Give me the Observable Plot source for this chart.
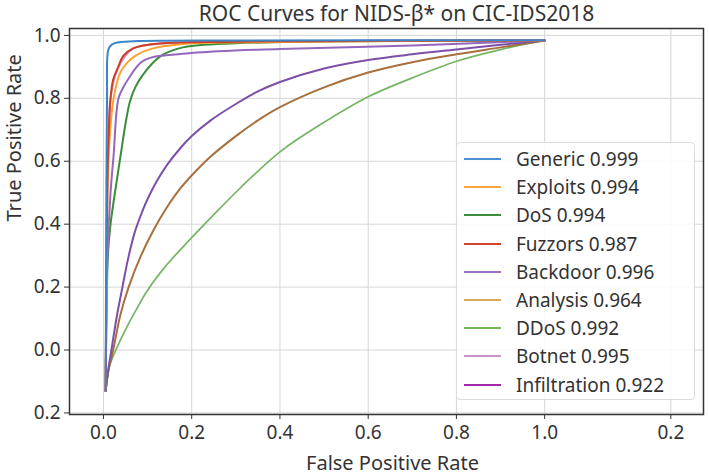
<!DOCTYPE html>
<html>
<head>
<meta charset="utf-8">
<script src="https://cdn.jsdelivr.net/npm/d3@7"></script>
<script src="https://cdn.jsdelivr.net/npm/@observablehq/plot@0.6"></script>
<style>
  body { margin: 0; background: #fff; font-family: "Noto Sans", sans-serif; }
  #chart { position: relative; width: 709px; height: 476px; }
  .legend {
    position: absolute; left: 456px; top: 142px; width: 239px; height: 258px;
    box-sizing: border-box; border: 1px solid #dcdcdc; border-radius: 4px;
    background: rgba(255,255,255,0.85);
  }
  .legend .row { position: absolute; left: 0; height: 28px; }
  .legend .swatch { position: absolute; left: 7px; width: 37px; height: 2px; }
  .legend .label { position: absolute; left: 59px; white-space: nowrap; font-size: 19px; color: #333; line-height: 28px; }
</style>
</head>
<body>
<div id="chart"></div>
<script>
// Series names, AUC scores and colours
const series = ["Generic", "Exploits", "DoS", "Fuzzors", "Backdoor", "Analysis", "DDoS", "Botnet", "Infiltration"];
const auc = [0.999, 0.994, 0.994, 0.987, 0.996, 0.964, 0.992, 0.995, 0.922];
const legendColors = ["#4a8fd6", "#ffa53f", "#3b8c3b", "#d0432c", "#9a70c0", "#dca65c", "#74b85e", "#cb92c6", "#a02aa8"];
const lineColors = ["#3d85c9", "#ffa033", "#3a8d3a", "#cc4027", "#9467bd", "#a8703d", "#74b563", "#cb92c6", "#7d4fa8"];

// ROC points per class: [false positive rate, true positive rate]
const generic = [[0.005,-0.13],[0.006,0.30],[0.008,0.80],[0.011,0.955],[0.018,0.970],[0.035,0.978],[0.08,0.982],[0.3,0.984],[1.0,0.985]];
const exploits = [[0.005,-0.13],[0.008,0.30],[0.011,0.60],[0.023,0.80],[0.039,0.885],[0.055,0.915],[0.073,0.936],[0.11,0.958],[0.18,0.973],[0.4,0.979],[1.0,0.984]];
const dos = [[0.005,-0.13],[0.010,0.30],[0.016,0.40],[0.026,0.50],[0.039,0.62],[0.050,0.72],[0.060,0.79],[0.072,0.835],[0.088,0.872],[0.11,0.91],[0.134,0.938],[0.18,0.962],[0.3,0.975],[1.0,0.984]];
const fuzzors = [[0.005,-0.13],[0.007,0.30],[0.010,0.60],[0.016,0.80],[0.022,0.86],[0.032,0.895],[0.045,0.935],[0.066,0.958],[0.125,0.974],[0.3,0.980],[1.0,0.984]];
const backdoor = [[0.005,-0.13],[0.009,0.30],[0.016,0.50],[0.023,0.62],[0.034,0.80],[0.045,0.835],[0.057,0.863],[0.091,0.920],[0.2,0.944],[0.4,0.957],[0.7,0.968],[1.0,0.984]];
const analysis = [[0.005,-0.13],[0.012,-0.06],[0.022,0.00],[0.038,0.11],[0.057,0.20],[0.085,0.30],[0.113,0.38],[0.14,0.445],[0.175,0.515],[0.21,0.57],[0.243,0.615],[0.3,0.68],[0.35,0.73],[0.4,0.772],[0.5,0.835],[0.6,0.882],[0.7,0.915],[0.8,0.94],[0.9,0.962],[1.0,0.984]];
const ddos = [[0.005,-0.13],[0.009,-0.085],[0.015,-0.045],[0.028,0.00],[0.05,0.065],[0.075,0.13],[0.10,0.19],[0.14,0.265],[0.185,0.335],[0.243,0.42],[0.31,0.515],[0.4,0.63],[0.49,0.715],[0.6,0.805],[0.7,0.865],[0.8,0.918],[0.9,0.955],[1.0,0.984]];
const botnet = [[0.005,-0.13],[0.007,0.30],[0.010,0.60],[0.016,0.80],[0.032,0.893],[0.066,0.957],[0.125,0.973],[0.3,0.980],[1.0,0.984]];
const infiltration = [[0.005,-0.13],[0.010,-0.07],[0.018,0.00],[0.030,0.105],[0.043,0.20],[0.055,0.285],[0.07,0.37],[0.085,0.43],[0.10,0.48],[0.12,0.535],[0.145,0.59],[0.175,0.643],[0.2,0.68],[0.243,0.73],[0.3,0.782],[0.35,0.822],[0.4,0.852],[0.5,0.895],[0.6,0.922],[0.7,0.94],[0.8,0.955],[0.9,0.97],[1.0,0.984]];

// Axis ticks and their printed labels
const xTicks = [0, 0.2, 0.4, 0.6, 0.8, 1.0, 1.286];
const xTickLabels = ["0.0", "0.2", "0.4", "0.6", "0.8", "1.0", "0.2"];
const yTicks = [-0.2, 0, 0.2, 0.4, 0.6, 0.8, 1.0];
const yTickLabels = ["0.2", "0.0", "0.2", "0.4", "0.6", "0.8", "1.0"];

const title = "ROC Curves for NIDS-β* on CIC-IDS2018";
const xLabel = "False Positive Rate";
const yLabel = "True Positive Rate";

const curves = {Generic: generic, Exploits: exploits, DoS: dos, Fuzzors: fuzzors, Backdoor: backdoor,
  Analysis: analysis, DDoS: ddos, Botnet: botnet, Infiltration: infiltration};
// painting order, bottom to top
const drawOrder = ["Botnet", "DDoS", "Analysis", "Infiltration", "DoS", "Backdoor", "Exploits", "Fuzzors", "Generic"];
const widthOf = name => name === "DDoS" ? 1.7 : 2;

const lineMarks = drawOrder.map(name => {
  const i = series.indexOf(name);
  return Plot.line(curves[name], {
    x: d => d[0], y: d => d[1],
    stroke: lineColors[i], strokeWidth: widthOf(name), curve: "catmull-rom"
  });
});

const chart = Plot.plot({
  width: 709, height: 476,
  marginTop: 28, marginBottom: 62, marginLeft: 69, marginRight: 6,
  style: {fontFamily: '"Noto Sans", sans-serif', fontSize: "19px", color: "#333", background: "#fff"},
  x: {domain: [-0.077, 1.36]},
  y: {domain: [-0.205, 1.022]},
  marks: [
    Plot.gridX(xTicks, {stroke: "#d6d6d6", strokeOpacity: 1, strokeWidth: 1}),
    Plot.gridY(yTicks, {stroke: "#d6d6d6", strokeOpacity: 1, strokeWidth: 1}),
    ...lineMarks,
    Plot.frame({stroke: "#333", strokeWidth: 1.5}),
    Plot.axisX(xTicks, {tickFormat: d => xTickLabels[xTicks.indexOf(d)], tickSize: 5, tickPadding: 6, label: null, fontSize: 19, stroke: "#333"}),
    Plot.axisY(yTicks, {tickFormat: d => yTickLabels[yTicks.indexOf(d)], tickSize: 5, tickPadding: 4, label: null, fontSize: 19, stroke: "#333"}),
    Plot.text([title], {frameAnchor: "top", lineAnchor: "middle", dx: 10, dy: -14, fontSize: 21, fill: "#333"}),
    Plot.text([xLabel], {frameAnchor: "bottom", lineAnchor: "middle", dx: 6, dy: 49, fontSize: 20, fill: "#333"}),
    Plot.text([yLabel], {frameAnchor: "left", lineAnchor: "middle", dx: -55, rotate: -90, fontSize: 20, fill: "#333"})
  ]
});

const host = document.getElementById("chart");
host.appendChild(chart);

// legend box inside the plot area
const legend = document.createElement("div");
legend.className = "legend";
series.forEach((name, i) => {
  const row = document.createElement("div");
  row.className = "row";
  row.style.top = Math.round(2 + i * 28.2) + "px";
  const sw = document.createElement("div");
  sw.className = "swatch";
  sw.style.background = legendColors[i];
  sw.style.top = "13px";
  const lb = document.createElement("div");
  lb.className = "label";
  lb.textContent = `${name} ${auc[i].toFixed(3)}`;
  row.appendChild(sw);
  row.appendChild(lb);
  legend.appendChild(row);
});
host.appendChild(legend);
</script>
</body>
</html>
